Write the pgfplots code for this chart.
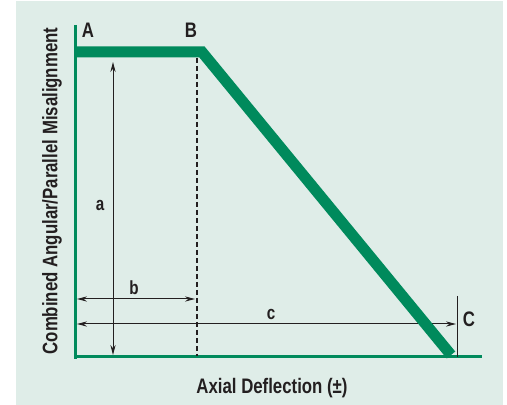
\documentclass[border=0pt]{standalone}
\usepackage{pgfplots}
\pgfplotsset{compat=1.18}
\usepackage{fontspec}
\setmainfont{Liberation Sans}[FakeStretch=0.8, BoldFont={Liberation Sans Bold}, BoldFeatures={FakeStretch=0.8}]
\usetikzlibrary{arrows.meta}
\definecolor{bggreen}{HTML}{DFEDE8}
\definecolor{linegreen}{HTML}{008A5C}
\definecolor{ink}{HTML}{231F20}
\tikzset{lbl/.style={font=\fontsize{10.5}{12}\selectfont\bfseries, text=ink, inner sep=0pt},
         dim/.style={font=\fontsize{9.5}{11}\selectfont\bfseries, text=ink, inner sep=0pt}}
\begin{document}
\begin{tikzpicture}
\begin{axis}[
    scale only axis,
    width=253.5pt,
    height=202.5pt,
    xmin=0, xmax=507,
    ymin=0, ymax=405,
    hide axis,
    clip=false
]
% page extent
\addplot[draw=none, mark=none] coordinates {(0,0) (507,405)};
% background panel
\addplot[draw=none, fill=bggreen] coordinates {(16,0) (503,0) (503,404) (16,404)} -- cycle;

% axes
\addplot[linegreen, line width=1.5pt] coordinates {(75,380) (75,46)};
\addplot[linegreen, line width=1.5pt] coordinates {(74,48) (482,48)};

% dashed line at B
\addplot[ink, line width=0.6pt, dash pattern=on 2.5pt off 1.5pt] coordinates {(197,347) (197,49)};

% dimension arrows
\addplot[ink, line width=0.5pt, {Stealth[length=5pt,width=2.6pt]}-{Stealth[length=5pt,width=2.6pt]}] coordinates {(113,343) (113,50)};
\addplot[ink, line width=0.5pt, {Stealth[length=5pt,width=2.6pt]}-{Stealth[length=5pt,width=2.6pt]}] coordinates {(77,106) (195,106)};
\addplot[ink, line width=0.5pt, {Stealth[length=5pt,width=2.6pt]}-{Stealth[length=5pt,width=2.6pt]}] coordinates {(77,81) (456,81)};
\addplot[ink, line width=0.5pt] coordinates {(457,109) (457,48)};

% limit curve A-B-C
\addplot[linegreen, line width=5.5pt, line join=miter] coordinates {(75,353) (202,353) (451,50)};

% labels
\node[lbl] at (axis cs:88,375) {A};
\node[lbl] at (axis cs:191,375) {B};
\node[lbl] at (axis cs:469,86) {C};
\node[dim] at (axis cs:100,200) {a};
\node[dim] at (axis cs:134,117) {b};
\node[dim] at (axis cs:271,91) {c};
\node[lbl] at (axis cs:272,17) {Axial Deflection (±)};
\node[lbl, rotate=90] at (axis cs:52,214) {Combined Angular/Parallel Misalignment};
\end{axis}
\end{tikzpicture}
\end{document}
